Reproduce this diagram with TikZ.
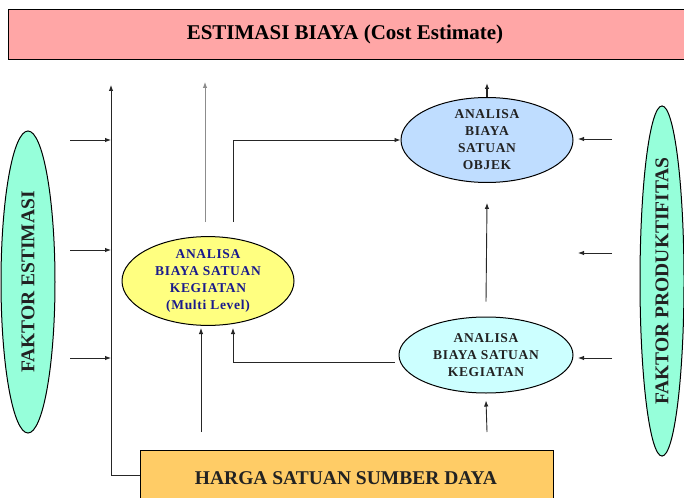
\documentclass[tikz,border=0pt]{standalone}
\usepackage{fontspec}
\setmainfont{Liberation Serif}
\usetikzlibrary{shapes.geometric,arrows.meta}
\definecolor{pinkbox}{HTML}{FFA6A6}
\definecolor{aqua}{HTML}{96FFDA}
\definecolor{yellowell}{HTML}{FFFF80}
\definecolor{blueell}{HTML}{BFDDFF}
\definecolor{cyanell}{HTML}{CCFFFF}
\definecolor{orangebox}{HTML}{FFCC66}
\definecolor{navytext}{HTML}{1A1A8C}
\definecolor{darktext}{HTML}{222222}
\tikzset{
  arr/.style={-{Latex[length=6pt,width=4.5pt]}, line width=0.9pt, color=black!85},
  analisa/.style={ellipse, draw=black, line width=1pt, inner sep=0pt, align=center,
    font=\fontsize{13.5}{17}\selectfont\bfseries\addfontfeatures{LetterSpace=5}, text=darktext},
  faktor/.style={ellipse, draw=black, line width=1pt, inner sep=0pt, fill=aqua,
    font=\fontsize{19.5}{22}\selectfont\bfseries, text=darktext},
  banner/.style={rectangle, draw=black, line width=1.2pt, inner sep=0pt, anchor=north west}
}
\begin{document}
\begin{tikzpicture}[x=1pt,y=-1pt]
    \useasboundingbox (0,0) rectangle (684,497);
    \node[banner, fill=pinkbox, minimum width=690pt, minimum height=50pt] (cost) at (8,9) {};
    \node at (345,34) {\fontsize{21}{24}\selectfont\bfseries ESTIMASI BIAYA (Cost Estimate)};
    \node[banner, fill=orangebox, minimum width=413pt, minimum height=60pt] (harga) at (140,450) {};
    \node[font=\fontsize{19.5}{22}\selectfont\bfseries, text=darktext] at (346,478) {HARGA SATUAN SUMBER DAYA};
    \node[faktor, minimum width=54pt, minimum height=302pt] (estimasi) at (28,282) {\rotatebox{90}{FAKTOR ESTIMASI}};
    \node[faktor, minimum width=44pt, minimum height=306pt] (produktif) at (662,281) {\rotatebox{90}{FAKTOR PRODUKTIFITAS}};
    \node[analisa, fill=yellowell, text=navytext, minimum width=172pt, minimum height=78pt] (kegmulti) at (208,281)
      {ANALISA\\BIAYA SATUAN\\KEGIATAN\\(Multi Level)};
    \node[analisa, fill=blueell, minimum width=172pt, minimum height=76pt] (objek) at (487,140)
      {ANALISA\\BIAYA\\SATUAN\\OBJEK};
    \node[analisa, fill=cyanell, minimum width=174pt, minimum height=76pt] (kegiatan) at (486,355)
      {ANALISA\\BIAYA SATUAN\\KEGIATAN};
    \coordinate (spine) at (111,85);
    \coordinate (costL) at (205,82);
    \coordinate (costR) at (487,83);
    \draw[arr] (harga.west |- 0,475) -| (spine);
    \foreach \y in {140,250,358}
        \draw[arr] (70,\y) -- (spine |- 0,\y);
    \foreach \y in {139,253,358}
        \draw[arr] (612,\y) -- (578,\y);
    \draw[arr, color=black!45] (205,222) -- (costL);
    \draw[arr] (233,222) |- (objek.west);
    \draw[arr, line width=1.4pt] (objek.north) -- (costR);
    \draw[arr] ([yshift=15pt]kegiatan.north) -- ([yshift=-20pt]objek.south);
    \draw[arr] (harga.north -| 487,0) ++(0,-18) -- ([yshift=-7pt]kegiatan.south);
    \draw[arr] (harga.north -| 201,0) ++(0,-18) -- (201,328);
    \draw[arr] (kegiatan.west |- 0,362) ++(-4,0) -| (233,328);
\end{tikzpicture}
\end{document}
